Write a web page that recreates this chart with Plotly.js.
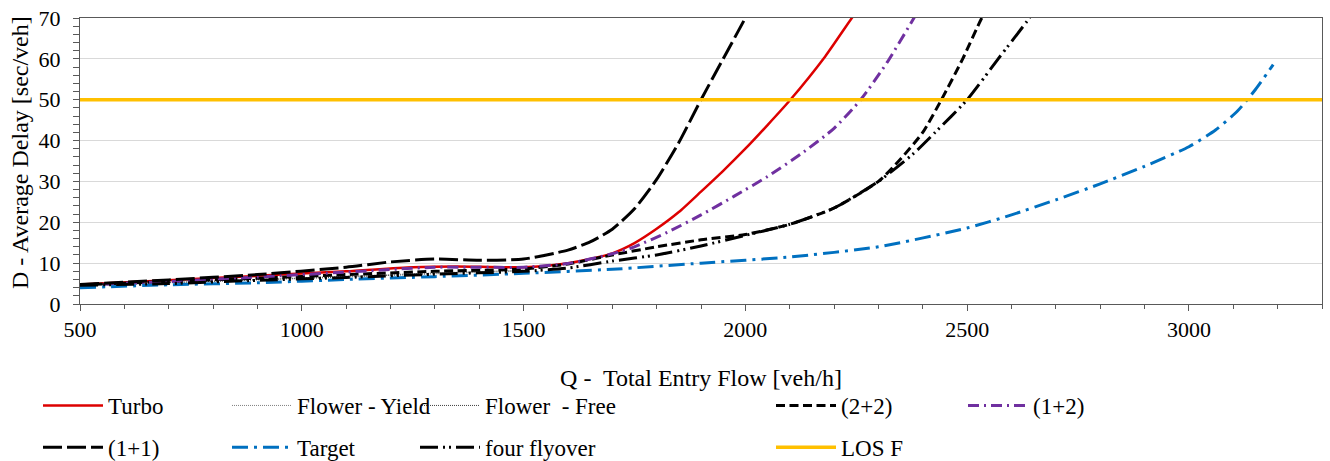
<!DOCTYPE html>
<html>
<head>
<meta charset="utf-8">
<script src="https://cdn.plot.ly/plotly-3.0.1.min.js"></script>
<style>html,body{margin:0;padding:0;background:#fff;}</style>
</head>
<body>
<div id="chart" style="width:1330px;height:461px;"></div>
<script>
// ---- data ----
const turboQ = [500, 700, 900, 1100, 1250, 1350, 1500, 1600, 1650, 1700, 1750, 1800, 1850, 1900, 1950, 2000, 2050, 2100, 2180, 2240, 2260];
const turboD = [4.8, 5.8, 6.9, 8.0, 9.0, 9.2, 9.0, 10.0, 11.0, 12.4, 14.9, 18.4, 22.5, 27.5, 32.6, 38.0, 43.8, 49.8, 60.6, 70.0, 73.0];

const flowerYieldQ = [500, 700, 900, 1100, 1300, 1500];
const flowerYieldD = [4.7, 5.3, 6.0, 6.8, 7.6, 8.3];

const flowerFreeQ = [500, 700, 900, 1100, 1300, 1500];
const flowerFreeD = [4.6, 5.2, 5.9, 6.6, 7.4, 8.1];

const twoTwoQ = [500, 700, 900, 1100, 1300, 1500, 1600, 1700, 1800, 1900, 2000, 2100, 2200, 2300, 2350, 2400, 2442, 2490, 2533, 2550];
const twoTwoD = [4.7, 5.5, 6.3, 7.2, 8.0, 8.6, 9.8, 12.0, 14.0, 15.7, 17.0, 19.5, 23.5, 30.0, 35.5, 42.0, 50.0, 60.0, 70.0, 73.0];

const oneTwoQ = [500, 700, 900, 1100, 1300, 1500, 1600, 1700, 1750, 1825, 1900, 1975, 2050, 2125, 2200, 2260, 2320, 2380, 2395];
const oneTwoD = [4.6, 5.5, 6.6, 7.8, 9.0, 9.0, 9.9, 12.3, 14.0, 17.6, 21.8, 26.4, 31.2, 36.7, 43.0, 50.0, 59.2, 70.0, 73.0];

const oneOneQ = [500, 700, 900, 1100, 1200, 1300, 1400, 1500, 1600, 1650, 1700, 1750, 1800, 1850, 1900, 1950, 2000, 2015];
const oneOneD = [4.8, 5.9, 7.2, 9.0, 10.3, 11.0, 10.7, 11.0, 13.2, 15.2, 18.3, 23.3, 30.5, 39.5, 50.0, 60.0, 70.0, 73.0];

const targetQ = [500, 700, 900, 1100, 1300, 1500, 1700, 1900, 2100, 2300, 2500, 2600, 2700, 2800, 2900, 3000, 3060, 3110, 3150, 3190];
const targetD = [4.0, 4.7, 5.2, 6.0, 6.7, 7.5, 8.5, 10.0, 11.5, 14.0, 18.6, 21.8, 25.5, 29.4, 33.7, 38.5, 42.6, 47.3, 52.5, 58.6];

const flyoverQ = [500, 700, 900, 1100, 1300, 1500, 1600, 1700, 1800, 1900, 2000, 2100, 2200, 2300, 2380, 2426, 2500, 2570, 2640, 2655];
const flyoverD = [4.6, 5.0, 5.8, 6.5, 7.3, 8.0, 8.8, 10.5, 12.0, 14.2, 16.8, 19.5, 23.5, 30.0, 36.9, 41.8, 50.0, 60.0, 70.0, 73.0];

const losQ = [500, 3300];
const losD = [50, 50];

const xTickVals = [500, 1000, 1500, 2000, 2500, 3000];
const yTickVals = [0, 10, 20, 30, 40, 50, 60, 70];

const xTitle = 'Q -\u00a0 Total Entry Flow [veh/h]';
const yTitle = 'D - Average Delay [sec/veh]';

// ---- styling ----
const FONT = 'Liberation Serif, Times New Roman, serif';
function tr(name, x, y, color, width, dash, legend) {
  return {
    type: 'scatter', mode: 'lines', name: name, x: x, y: y,
    line: {color: color, width: width, dash: dash, shape: 'spline', smoothing: 0.6},
    legend: legend, legendgroup: name, hoverinfo: 'skip'
  };
}

const data = [
  tr('Turbo', turboQ, turboD, '#DD0000', 2.5, 'solid', 'legend'),
  tr('Flower - Yield', flowerYieldQ, flowerYieldD, '#808080', 1, '1px,1px', 'legend2'),
  tr('Flower  - Free', flowerFreeQ, flowerFreeD, '#404040', 1, '1px,1px', 'legend3'),
  tr('(2+2)', twoTwoQ, twoTwoD, '#000000', 3, '9px,4.5px', 'legend4'),
  tr('(1+2)', oneTwoQ, oneTwoD, '#7030A0', 3, '11px,5px,2px,5px', 'legend5'),
  tr('(1+1)', oneOneQ, oneOneD, '#000000', 3, '19px,5px', 'legend'),
  tr('Target', targetQ, targetD, '#0070C0', 3, '16px,6px,3px,6px', 'legend2'),
  tr('four flyover', flyoverQ, flyoverD, '#000000', 3, '18px,5px,2px,4px,2px,5px', 'legend3'),
  tr('LOS F', losQ, losD, '#FFC000', 3.5, 'solid', 'legend4')
];

function leg(xpx) {
  return {
    xref: 'container', yref: 'container',
    x: xpx / 1330, y: 1 - 384 / 461, xanchor: 'left', yanchor: 'top',
    orientation: 'v', traceorder: 'grouped', tracegroupgap: 9,
    itemwidth: 60, bgcolor: 'rgba(0,0,0,0)', borderwidth: 0,
    font: {family: FONT, size: 23, color: '#000'}
  };
}

const axisLine = '#595959';
const layout = {
  width: 1330, height: 461,
  margin: {l: 80, r: 8, t: 18, b: 157, autoexpand: false},
  paper_bgcolor: '#fff', plot_bgcolor: '#fff',
  font: {family: FONT, color: '#000'},
  showlegend: true,
  xaxis: {
    range: [500, 3300], tickmode: 'array', tickvals: xTickVals, tickangle: 0,
    ticks: 'outside', ticklen: 6, tickwidth: 1, tickcolor: axisLine,
    minor: {dtick: 100, tick0: 500, ticks: 'outside', ticklen: 4, tickcolor: axisLine, showgrid: false},
    showline: true, linecolor: axisLine, linewidth: 1, mirror: true,
    showgrid: false, zeroline: false, automargin: false,
    tickfont: {family: FONT, size: 22, color: '#000'},
    title: {text: xTitle, font: {family: FONT, size: 24, color: '#000'}}
  },
  yaxis: {
    range: [0, 70], tickmode: 'array', tickvals: yTickVals, tickangle: 0,
    ticks: 'outside', ticklen: 6, tickwidth: 1, tickcolor: axisLine,
    minor: {dtick: 2, tick0: 0, ticks: 'outside', ticklen: 6, tickcolor: axisLine, showgrid: false},
    showline: true, linecolor: axisLine, linewidth: 1, mirror: true,
    showgrid: true, gridcolor: '#D9D9D9', gridwidth: 1, zeroline: false, automargin: false,
    ticklabelstandoff: 8,
    tickfont: {family: FONT, size: 22, color: '#000'}
  },
  annotations: [{
    text: yTitle, textangle: -90, showarrow: false,
    xref: 'paper', yref: 'paper', x: (20 - 80) / 1242, y: (304 - 153) / 286,
    xanchor: 'center', yanchor: 'middle',
    font: {family: FONT, size: 24, color: '#000'}
  }],
  legend: leg(38),
  legend2: leg(227),
  legend3: leg(415),
  legend4: leg(771),
  legend5: leg(963)
};

Plotly.newPlot('chart', data, layout, {displayModeBar: false, staticPlot: true});
</script>
</body>
</html>
